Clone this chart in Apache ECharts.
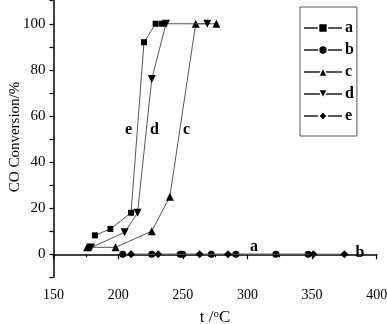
<!DOCTYPE html>
<html><head><meta charset="utf-8">
<script src="https://cdn.jsdelivr.net/npm/echarts@6/dist/echarts.min.js"></script>
<style>html,body{margin:0;padding:0;background:#fff}#c{width:387px;height:324px}</style>
</head><body><div id="c"></div>
<script>
var seriesNames = ['a','b','c','d','e'];
var aX = [182, 194, 210, 220, 229, 234];
var aY = [8.2, 11, 18, 92, 100, 100];
var bX = [203.5, 226, 248, 250, 272, 291, 322, 347];
var bY = [0, 0, 0, 0, 0, 0, 0, 0];
var cX = [176, 198, 226, 240, 260, 276];
var cY = [3, 3, 10, 25, 100, 100];
var dX = [179, 205, 215, 226, 237, 269];
var dY = [2.9, 9.5, 18, 76, 100, 100];
var eX = [210, 231, 263, 285, 351, 375];
var eY = [0, 0, 0, 0, 0, 0];
var xTicks = [150, 200, 250, 300, 350, 400];
var yTicks = [0, 20, 40, 60, 80, 100];
var annotations = [
  {t:'e', x:208, y:54}, {t:'d', x:228, y:54}, {t:'c', x:253, y:54},
  {t:'a', x:305, y:3.3}, {t:'b', x:387, y:0.4}
];

function pairs(xs, ys){ return xs.map(function(v,i){return [v, ys[i]];}); }
var symbols = ['rect','circle','triangle','path://M0,0 L10,0 L5,9 Z','diamond'];
var sizes = [6, 7, 8, 8, 8];
var data = [pairs(aX,aY), pairs(bX,bY), pairs(cX,cY), pairs(dX,dY), pairs(eX,eY)];
var font = 'Liberation Serif';

var chart = echarts.init(document.getElementById('c'));
var series = seriesNames.map(function(n,i){
  return {
    name: n, type: 'line', data: data[i], symbol: symbols[i], symbolSize: sizes[i],
    showAllSymbol: true,
    lineStyle: {color:'#555', width:1}, itemStyle: {color:'#000'},
    z: 2 + i
  };
});
chart.setOption({
  animation: false,
  grid: {left: 53.5, right: 10.3, top: 0.7, bottom: 46.7, outerBoundsMode: 'none', containLabel: false},
  xAxis: {
    type: 'value', min: 150, max: 400, interval: 50,
    name: 't /{s|o}C', nameLocation: 'middle', nameGap: 31,
    nameTextStyle: {fontFamily: font, fontSize: 17, color:'#000',
      rich: {s: {fontFamily: font, fontSize: 11, color:'#000', padding:[0,0,8,0]}}},
    axisLine: {lineStyle: {color:'#000', width:1.5}},
    axisTick: {length: 5, lineStyle:{color:'#000', width:1.2}},
    minorTick: {show: true, splitNumber: 2, length: 3, lineStyle:{color:'#000', width:1.2}},
    splitLine: {show:false},
    axisLabel: {fontFamily: font, fontSize: 14, color:'#000', margin: 11,
      formatter: function(v){ return xTicks.indexOf(v) >= 0 ? String(v) : ''; }}
  },
  yAxis: {
    type: 'value', min: -10, max: 110, interval: 10,
    axisLine: {show:true, lineStyle: {color:'#000', width:1.5}},
    axisTick: {show:true, length: 4, lineStyle:{color:'#000', width:1.2}},
    splitLine: {show:false},
    axisLabel: {fontFamily: font, fontSize: 15, color:'#000', margin: 8,
      formatter: function(v){ return yTicks.indexOf(v) >= 0 ? String(v) : ''; }}
  },
  legend: {
    orient: 'vertical', left: 300, top: 7,
    padding: [13, 3, 12, 3], itemGap: 6, itemWidth: 38, itemHeight: 11,
    borderColor: '#555', borderWidth: 1,
    data: seriesNames,
    textStyle: {fontFamily: font, fontSize: 16, fontWeight: 'bold', color:'#000', padding:[0,0,0,-2]},
    itemStyle: {borderColor: '#fff', borderWidth: 1.5}
  },
  series: series
});

var g = annotations.map(function(a){
  var p = chart.convertToPixel({gridIndex:0}, [a.x, a.y]);
  return {type:'text', x: p[0], y: p[1], z: 100,
    style:{text:a.t, fontFamily:font, fontSize:16, fontWeight:'bold', fill:'#000', align:'center', verticalAlign:'middle'}};
});
g.push({type:'text', x: 15, y: 137, rotation: Math.PI/2, z: 100,
  style:{text:'CO Conversion/%', fontFamily:font, fontSize:15, fill:'#000', align:'center', verticalAlign:'middle'}});
chart.setOption({graphic: g});
</script></body></html>
